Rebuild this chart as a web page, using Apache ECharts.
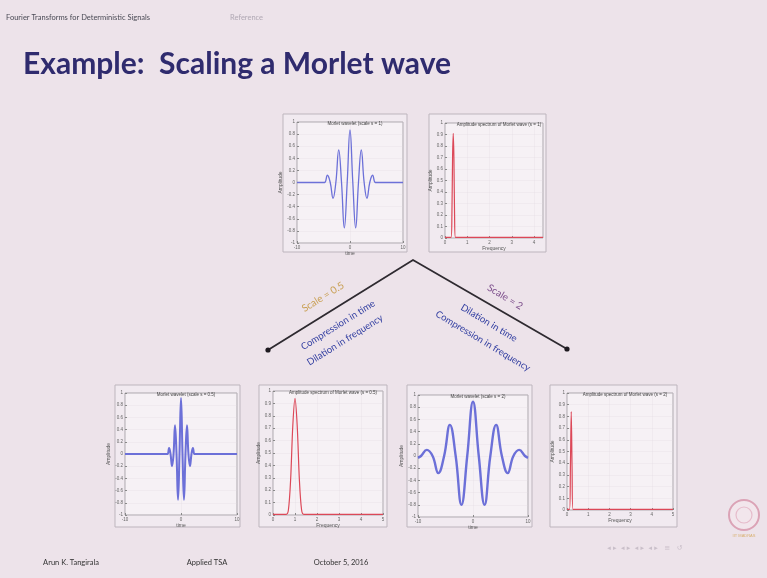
<!DOCTYPE html>
<html><head><meta charset="utf-8">
<script src="https://cdn.jsdelivr.net/npm/echarts/dist/echarts.min.js"></script>
<style>html,body{margin:0;padding:0;background:#ede3ea;}#c{width:767px;height:578px;}</style>
</head><body><div id="c"></div>
<script>
// ---- Data ----
// Morlet wave, scale = 1 (time, amplitude)
const waveS1_t = [-10,-5.4,-4.8,-4.27,-3.73,-3.2,-2.67,-2.13,-1.6,-1.07,-0.53,0,0.53,1.07,1.6,2.13,2.67,3.2,3.73,4.27,4.8,5.4,10];
const waveS1_y = [0,0,0,0.12,0,-0.26,0,0.54,0,-0.75,0,0.87,0,-0.75,0,0.54,0,-0.26,0,0.12,0,0,0];
// Morlet wave, scale = 0.5
const waveS05_t = [-10,-2.7,-2.4,-2.13,-1.87,-1.6,-1.33,-1.07,-0.8,-0.53,-0.27,0,0.27,0.53,0.8,1.07,1.33,1.6,1.87,2.13,2.4,2.7,10];
const waveS05_y = [0,0,0,0.1,0,-0.2,0,0.47,0,-0.75,0,0.92,0,-0.75,0,0.47,0,-0.2,0,0.1,0,0,0];
// Morlet wave, scale = 2
const waveS2_t = [-10,-9.45,-8.4,-7.35,-6.3,-5.25,-4.2,-3.15,-2.1,-1.05,0,1.05,2.1,3.15,4.2,5.25,6.3,7.35,8.4,9.45,10];
const waveS2_y = [-0.03,0,0.1,0,-0.28,0,0.51,0,-0.8,0,0.89,0,-0.8,0,0.51,0,-0.28,0,0.1,0,-0.03];
// Amplitude spectra (frequency, amplitude)
const specS1_f = [0,0.27,0.31,0.34,0.37,0.4,0.43,0.47,4.4];
const specS1_a = [0.005,0.005,0.2,0.7,0.91,0.7,0.2,0.005,0.005];
const specS05_f = [0,0.6,0.7,0.8,0.9,1.0,1.1,1.2,1.3,1.4,5];
const specS05_a = [0.005,0.005,0.04,0.28,0.72,0.94,0.72,0.28,0.04,0.005,0.005];
const specS2_f = [0,0.12,0.16,0.2,0.24,0.28,5];
const specS2_a = [0.005,0.005,0.35,0.84,0.35,0.005,0.005];
const panelTitles = [
  'Morlet wavelet (scale s = 1)',
  'Amplitude spectrum of Morlet wave (s = 1)',
  'Morlet wavelet (scale s = 0.5)',
  'Amplitude spectrum of Morlet wave (s = 0.5)',
  'Morlet wavelet (scale s = 2)',
  'Amplitude spectrum of Morlet wave (s = 2)'
];

// ---- Layout ----
const panels = [
  {kind:'t', t:waveS1_t,  y:waveS1_y,  g:{left:297,top:122,width:106,height:121}, box:[283,114,124,138], lw:1.3},
  {kind:'f', t:specS1_f,  y:specS1_a,  g:{left:445,top:123,width:98, height:115}, box:[429,114,117,138], xmax:4.4},
  {kind:'t', t:waveS05_t, y:waveS05_y, g:{left:125,top:393,width:112,height:122}, box:[115,385,125,142], lw:2},
  {kind:'f', t:specS05_f, y:specS05_a, g:{left:273,top:391,width:110,height:124}, box:[259,385,128,142], xmax:5},
  {kind:'t', t:waveS2_t,  y:waveS2_y,  g:{left:418,top:395,width:110,height:122}, box:[407,385,125,142], lw:2.4},
  {kind:'f', t:specS2_f,  y:specS2_a,  g:{left:567,top:393,width:106,height:117}, box:[550,385,127,142], xmax:5}
];

const lab = {fontSize:4.5, color:'#666', fontFamily:'Liberation Sans'};
const grid=[], xAxis=[], yAxis=[], series=[], title=[], graphic=[];
panels.forEach((p,i)=>{
  graphic.push({type:'rect', z:-10, silent:true, shape:{x:p.box[0],y:p.box[1],width:p.box[2],height:p.box[3]},
    style:{fill:'#f1eaf0', stroke:'#bdb5bd', lineWidth:1}});
  grid.push(Object.assign({show:true, backgroundColor:'#f6f1f5', borderColor:'#9a959a', borderWidth:0.8, containLabel:false}, p.g));
  const isT = p.kind==='t';
  xAxis.push({type:'value', gridIndex:i, min: isT?-10:0, max: isT?10:p.xmax, interval: isT?10:1,
    name: isT?'time':'Frequency', nameLocation:'middle', nameGap:7, nameTextStyle:{fontSize:5,color:'#555'},
    axisLine:{show:false,onZero:false}, axisTick:{inside:true,length:2,lineStyle:{color:'#888'}},
    axisLabel:Object.assign({margin:2, showMaxLabel: isT?true:(p.xmax%1===0)}, lab),
    splitLine:{show:true,lineStyle:{color:'#ddd5dc',width:0.5,type:'dotted'}}});
  yAxis.push({type:'value', gridIndex:i, min: isT?-1:0, max:1, interval: isT?0.2:0.1,
    name:'Amplitude', nameLocation:'middle', nameGap:10, nameTextStyle:{fontSize:5,color:'#555'},
    axisLine:{show:false,onZero:false}, axisTick:{inside:true,length:2,lineStyle:{color:'#888'}},
    axisLabel:Object.assign({margin:2, formatter:v=>(+v.toFixed(1)).toString()}, lab),
    splitLine:{show:true,lineStyle:{color:'#ddd5dc',width:0.5,type:'dotted'}}});
  series.push({type:'line', xAxisIndex:i, yAxisIndex:i, showSymbol:false, smooth: isT?0.45:0.3,
    lineStyle:{color: isT?'#6c70d8':'#dc4858', width: isT?p.lw:1.2},
    data: p.t.map((v,k)=>[v,p.y[k]])});
  title.push({text:panelTitles[i], left:p.g.left+p.g.width/2, top:p.g.top-6, textAlign:'center',
    textStyle:{fontSize:4.5,fontWeight:'normal',color:'#444',fontFamily:'Liberation Sans'}});
});

// slide decorations
const deg = Math.PI/180;
const blue = '#3440a2';
graphic.push(
  {type:'text', x:6, y:18, style:{text:'Fourier Transforms for Deterministic Signals', fontSize:7.5, fill:'#4a4a55', fontFamily:'Lato', verticalAlign:'middle'}},
  {type:'text', x:230, y:18, style:{text:'Reference', fontSize:7.5, fill:'#b0a8b4', fontFamily:'Lato', verticalAlign:'middle'}},
  {type:'text', x:23, y:64, style:{text:'Example:  Scaling a Morlet wave', fontSize:30, fontWeight:'bold', fill:'#2f2b6e', fontFamily:'Lato', verticalAlign:'middle'}},
  {type:'polyline', shape:{points:[[268,350],[413,260],[567,349]]}, style:{stroke:'#2e2a30', lineWidth:1.8, fill:null}},
  {type:'circle', shape:{cx:268,cy:350,r:2.6}, style:{fill:'#1e1a20'}},
  {type:'circle', shape:{cx:567,cy:349,r:2.6}, style:{fill:'#1e1a20'}},
  {type:'text', x:323, y:297, rotation:32*deg, style:{text:'Scale = 0.5', fontSize:10, fill:'#c9a055', fontFamily:'Lato', align:'center', verticalAlign:'middle'}},
  {type:'text', x:338, y:325, rotation:32*deg, style:{text:'Compression in time', fontSize:9.5, fill:blue, fontFamily:'Lato', align:'center', verticalAlign:'middle'}},
  {type:'text', x:345, y:340, rotation:32*deg, style:{text:'Dilation in frequency', fontSize:9.5, fill:blue, fontFamily:'Lato', align:'center', verticalAlign:'middle'}},
  {type:'text', x:505, y:297, rotation:-31*deg, style:{text:'Scale = 2', fontSize:10, fill:'#7d4f8c', fontFamily:'Lato', align:'center', verticalAlign:'middle'}},
  {type:'text', x:489, y:323, rotation:-31*deg, style:{text:'Dilation in time', fontSize:9.5, fill:blue, fontFamily:'Lato', align:'center', verticalAlign:'middle'}},
  {type:'text', x:483, y:341, rotation:-31*deg, style:{text:'Compression in frequency', fontSize:9.5, fill:blue, fontFamily:'Lato', align:'center', verticalAlign:'middle'}},
  {type:'text', x:71, y:563, style:{text:'Arun K. Tangirala', fontSize:7.5, fill:'#333', fontFamily:'Lato', align:'center', verticalAlign:'middle'}},
  {type:'text', x:207, y:563, style:{text:'Applied TSA', fontSize:7.5, fill:'#333', fontFamily:'Lato', align:'center', verticalAlign:'middle'}},
  {type:'text', x:341, y:563, style:{text:'October 5, 2016', fontSize:7.5, fill:'#333', fontFamily:'Lato', align:'center', verticalAlign:'middle'}},
  {type:'text', x:645, y:548, style:{text:'◂ ▸  ◂ ▸  ◂ ▸  ◂ ▸   ≡   ↺', fontSize:7, fill:'#c9bfc9', fontFamily:'DejaVu Sans', align:'center', verticalAlign:'middle'}},
  {type:'circle', shape:{cx:744,cy:515,r:15}, style:{fill:'#f2e6ec', stroke:'#dba3b6', lineWidth:2}},
  {type:'circle', shape:{cx:744,cy:515,r:8}, style:{fill:null, stroke:'#e6bccb', lineWidth:1.2}},
  {type:'text', x:744, y:536, style:{text:'IIT MADRAS', fontSize:4, fill:'#d8b070', fontFamily:'Liberation Sans', align:'center', verticalAlign:'middle'}}
);

const chart = echarts.init(document.getElementById('c'), null, {renderer:'canvas'});
chart.setOption({backgroundColor:'#ede3ea', animation:false, title, grid, xAxis, yAxis, series, graphic});
</script></body></html>
